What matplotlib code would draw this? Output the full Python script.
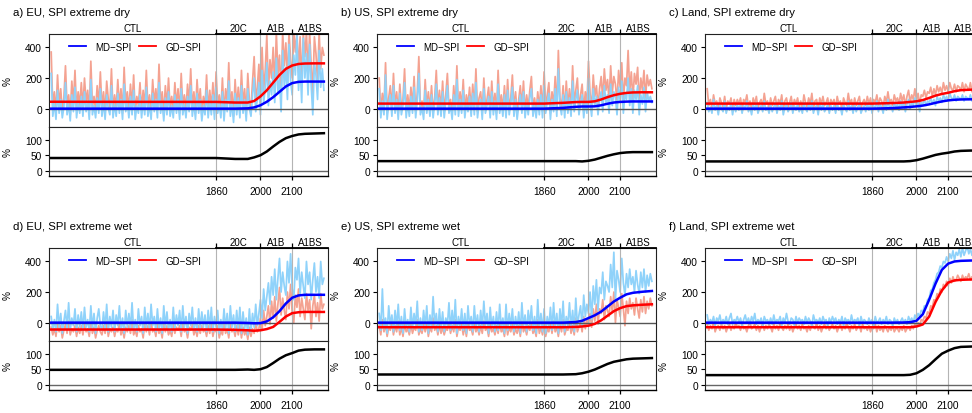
import numpy as np
import matplotlib
matplotlib.use("Agg")
import matplotlib.pyplot as plt
from matplotlib import transforms

plt.rcParams['font.family'] = ['Liberation Sans', 'DejaVu Sans']

# one noisy value every 5 years (CTL years are placed before 1860)
years = np.arange(1340, 2201, 5)
curve_years = [1340, 1860, 1920, 1960, 1980, 2000, 2020, 2040, 2060, 2080, 2100, 2120, 2140, 2170, 2200]

titles = ['a) EU, SPI extreme dry', 'b) US, SPI extreme dry', 'c) Land, SPI extreme dry',
          'd) EU, SPI extreme wet', 'e) US, SPI extreme wet', 'f) Land, SPI extreme wet']
periods = ['CTL', '20C', 'A1B', 'A1BS']
period_edges = [1860, 2000, 2100]
top_ticks = [0, 200, 400]
bottom_ticks = [0, 50, 100]

# ---- a) EU dry
a_md = [230, -50, 40, -70, 120, -30, 60, -60, 10, 170,
        -40, 30, -80, 90, -20, 140, -60, 40, -30, 80,
        -50, 110, -20, 50, -70, 190, -40, 20, -60, 70,
        -30, 130, -50, 40, -70, 90, 0, -40, 150, -60,
        30, -50, 100, -30, 60, -70, 160, -20, 40, -60,
        80, -40, 120, -70, 20, -30, 90, -60, 50, -40,
        140, -50, 30, -70, 100, -20, 60, -60, 170, -30,
        40, -80, 70, -40, 110, -50, 20, -60, 90, -30,
        60, -70, 130, -40, 30, -60, 80, -20, 150, -50,
        40, -70, 100, -30, 60, -80, 20, -40, 120, -60,
        50, -40, 90, -70, 140, -30, 30, -60, 110, -80,
        60, -20, 180, -50, 40, -90, 100, -40, 70, -60,
        150, -30, 60, -80, 130, 0, -50, 90, 200, -20,
        60, 170, -40, 250, 40, 130, 300, 20, 180, 90,
        240, 40, 330, 110, 200, -20, 380, 150, 270, 60,
        420, 180, 90, 350, 220, 480, 120, 300, 40, 460,
        200, 360, 90, 420, 150, -40, 300, 220, 60, 380,
        140, 260, 120]
a_gd = [370, 0, 110, -30, 220, 20, 130, -20, 70, 280,
        10, 90, -40, 180, 30, 250, -10, 110, 20, 170,
        0, 200, 40, 120, -30, 310, 10, 80, -10, 150,
        20, 240, 0, 110, -30, 180, 60, 10, 260, -20,
        90, 0, 190, 20, 130, -30, 270, 30, 110, -10,
        160, 10, 220, -30, 80, 20, 170, -10, 120, 10,
        250, 0, 90, -30, 190, 30, 130, -10, 290, 20,
        110, -40, 150, 10, 200, 0, 80, -20, 170, 20,
        130, -30, 230, 10, 90, -10, 160, 30, 260, 0,
        110, -30, 190, 20, 130, -40, 80, 10, 220, -20,
        120, 0, 170, -30, 240, 20, 90, -20, 200, -40,
        130, 30, 300, 0, 110, -50, 190, 10, 140, -20,
        250, 20, 130, -40, 230, 50, 0, 180, 340, 50,
        140, 290, 30, 400, 120, 250, 480, 110, 320, 200,
        400, 130, 500, 220, 350, 80, 500, 280, 430, 170,
        500, 320, 200, 500, 370, 500, 240, 470, 150, 500,
        340, 500, 210, 500, 280, 90, 470, 360, 170, 500,
        260, 400, 350]
a_md_mean = [0, 0, 0, 2, 8, 22, 45, 75, 110, 145, 167, 175, 177, 177, 177]
a_gd_mean = [45, 44, 40, 40, 50, 80, 120, 170, 220, 260, 282, 292, 295, 296, 296]
a_ratio = [41, 41, 38, 38, 43, 50, 62, 78, 93, 105, 112, 117, 119, 120, 121]

# ---- b) US dry
b_md = [130, -60, 50, -40, 220, -70, 30, 90, -50, 150,
        -30, 60, -70, 100, -40, 20, 170, -60, 40, -50,
        80, -30, 140, -60, 50, 230, -40, 10, -70, 120,
        -30, 60, -50, 90, -60, 30, 160, -40, 70, -50,
        110, -60, 40, 150, -30, 20, -70, 90, -40, 190,
        -50, 60, -30, 120, -60, 40, -20, 80, -50, 100,
        -40, 170, -60, 30, 60, -70, 130, -30, 20, 80,
        -60, 110, -40, 50, -70, 160, -30, 40, -50, 90,
        -60, 120, -40, 30, 140, -50, 60, -70, 20, 90,
        -30, 110, -60, 40, -40, 70, 130, -50, 30, -60,
        60, -40, 90, -60, 150, -30, 40, 100, -70, 60,
        -20, 130, -50, 260, 20, -40, 90, -60, 110, -30,
        70, -50, 180, -20, 60, 120, -40, 30, 90, -60,
        50, -30, 200, 40, -50, 130, 20, 80, -40, 60,
        110, -20, 150, 40, 90, -30, 160, 20, 110, 70,
        -40, 140, 50, 180, -30, 100, 60, 200, 20, 130,
        -30, 120, 60, 150, -40, 90, 30, 140, -20, 110,
        50, 80, 40]
b_gd = [200, -20, 100, 0, 300, -30, 70, 150, -10, 230,
        10, 110, -30, 160, 0, 60, 260, -20, 90, -10,
        140, 10, 210, -20, 100, 340, 0, 50, -30, 190,
        10, 110, -10, 150, -20, 70, 250, 0, 120, -10,
        180, -20, 90, 230, 10, 60, -30, 150, 0, 280,
        -10, 110, 10, 190, -20, 90, 20, 140, -10, 160,
        0, 260, -20, 70, 110, -30, 200, 10, 60, 140,
        -20, 180, 0, 100, -30, 250, 10, 90, -10, 150,
        -20, 190, 0, 70, 220, -10, 110, -30, 60, 150,
        10, 180, -20, 90, 0, 120, 210, -10, 70, -20,
        110, 0, 150, -20, 240, 10, 90, 170, -30, 110,
        20, 210, -10, 380, 70, 0, 150, -20, 180, 10,
        130, -10, 280, 30, 120, 200, 0, 90, 160, -20,
        110, 20, 310, 100, 0, 220, 80, 150, 10, 130,
        210, 60, 260, 120, 190, 50, 280, 100, 210, 160,
        40, 250, 140, 300, 50, 200, 150, 380, 110, 240,
        60, 230, 160, 270, 40, 200, 120, 250, 70, 220,
        150, 190, 130]
b_md_mean = [0, 0, 5, 12, 14, 14, 15, 22, 32, 40, 44, 46, 47, 47, 47]
b_gd_mean = [33, 33, 38, 43, 44, 44, 48, 60, 75, 88, 97, 103, 106, 107, 107]
b_ratio = [31, 31, 31, 31, 30, 32, 36, 42, 48, 53, 57, 59, 60, 60, 60]

# ---- c) Land dry
c_md = [40, -20, 10, -30, 60, -10, 20, -40, 30, 0,
        -20, 50, -30, 10, -10, 40, -40, 20, -20, 30,
        -10, 30, -30, 20, 0, 50, -20, 10, -40, 30,
        -10, 40, -30, 0, 20, -20, 50, -10, 10, -30,
        30, -20, 10, 40, -30, 20, -10, 50, -40, 10,
        30, -20, 0, 40, -30, 20, -10, 30, -20, 10,
        -30, 40, 0, -20, 30, -10, 50, -30, 10, 20,
        -40, 30, -10, 40, -20, 0, 30, -30, 20, -10,
        20, -30, 40, -10, 10, -40, 30, 0, -20, 50,
        -10, 20, -30, 30, -20, 10, 40, -30, 0, 20,
        -20, 40, -10, 30, -30, 20, 0, 50, -20, 30,
        10, -30, 40, -10, 60, 0, 20, -20, 40, 10,
        30, -10, 50, 10, 40, -20, 30, 60, 0, 40,
        20, 70, 10, 50, -20, 40, 30, 60, 20, 50,
        40, 70, 30, 60, 20, 80, 50, 70, 40, 90,
        60, 80, 50, 100, 70, 60, 90, 50, 80, 70,
        60, 90, 50, 80, 70, 60, 90, 50, 80, 70,
        60, 80, 70]
c_gd = [130, 20, 60, 0, 90, 30, 50, -10, 70, 40,
        10, 80, 0, 50, 30, 70, -10, 60, 20, 60,
        30, 70, 0, 60, 40, 90, 10, 50, -10, 70,
        30, 80, 0, 40, 60, 10, 100, 30, 50, 0,
        70, 20, 50, 80, 0, 60, 30, 90, -10, 50,
        70, 10, 40, 80, 0, 60, 30, 70, 10, 50,
        0, 90, 40, 10, 70, 30, 100, 0, 50, 60,
        -10, 70, 30, 80, 20, 40, 70, 0, 60, 30,
        60, 0, 80, 30, 50, -10, 70, 40, 20, 100,
        30, 60, 0, 70, 20, 50, 80, 0, 40, 60,
        20, 80, 30, 70, 0, 60, 40, 90, 20, 70,
        50, 10, 80, 40, 110, 40, 60, 20, 90, 50,
        70, 30, 100, 50, 90, 20, 80, 120, 40, 90,
        60, 130, 50, 100, 30, 90, 80, 120, 70, 110,
        100, 140, 80, 130, 90, 150, 110, 140, 100, 170,
        120, 150, 110, 170, 130, 120, 160, 110, 150, 140,
        120, 170, 110, 160, 140, 120, 170, 110, 150, 140,
        120, 160, 130]
c_md_mean = [0, 0, 3, 8, 11, 15, 20, 28, 38, 47, 54, 58, 60, 61, 61]
c_gd_mean = [33, 33, 36, 40, 44, 48, 56, 70, 85, 96, 104, 114, 121, 124, 125]
c_ratio = [30, 30, 30, 30, 31, 34, 39, 45, 51, 55, 58, 62, 64, 65, 65]

# ---- d) EU wet
d_md = [40, -50, 20, -60, 120, -30, 60, -70, 10, 80,
        -40, 130, -50, 30, -20, 90, -60, 50, -30, 70,
        -50, 100, -30, 20, -60, 110, -40, 60, -70, 30,
        90, -20, -50, 70, -40, 120, -60, 40, -30, 80,
        -60, 50, -20, 110, -50, 30, -70, 80, -30, 60,
        -40, 130, -50, 20, -60, 90, -20, 40, -70, 100,
        -30, 60, -50, 120, -20, 40, -60, 90, -40, 30,
        -70, 110, -30, 70, -50, 20, -60, 100, -40, 50,
        -20, 80, -60, 110, -30, 40, -70, 60, -20, 100,
        -50, 30, -60, 90, -40, 70, -30, 50, -60, 80,
        -40, 100, -60, 40, -30, 80, -70, 20, -50, 90,
        -40, 60, -70, 110, -30, 50, -60, 80, -50, 100,
        -70, 70, -40, 30, -80, 90, -60, 60, -30, 120,
        -20, 60, 150, 30, 220, 80, 170, 260, 120, 300,
        180, 350, 150, 290, 420, 200, 330, 240, 180, 400,
        260, 450, 220, 150, 360, 280, 420, 190, 330, 240,
        160, 400, 250, 330, 150, 280, 390, 200, 300, 160,
        400, 250, 290]
d_gd = [-30, -80, -40, -90, 0, -60, -20, -100, -50, -10,
        -70, 10, -80, -40, -60, -20, -90, -30, -70, -20,
        -80, -10, -60, -40, -90, 0, -70, -30, -100, -50,
        -20, -60, -80, -20, -70, 10, -90, -40, -60, -30,
        -90, -40, -60, 0, -80, -40, -100, -30, -60, -20,
        -70, 20, -80, -50, -90, -20, -60, -40, -100, -10,
        -60, -20, -80, 10, -60, -40, -90, -10, -70, -40,
        -100, 0, -60, -20, -80, -50, -90, -10, -70, -30,
        -50, -20, -90, 0, -60, -40, -100, -30, -50, -10,
        -80, -40, -90, -20, -70, -20, -60, -40, -90, -20,
        -70, -10, -90, -40, -60, -20, -100, -50, -80, -10,
        -70, -40, -100, 0, -60, -40, -90, -20, -80, -10,
        -100, -30, -80, -50, -110, -30, -90, -40, -70, 0,
        -60, -40, 30, -50, 80, -20, 40, 110, -10, 140,
        30, 170, 10, 120, 230, 50, 160, 80, 20, 200,
        90, 250, 60, 0, 180, 100, 220, 40, 160, 90,
        20, 190, 80, 150, -40, 110, 180, 40, 130, 10,
        190, 90, 120]
d_md_mean = [0, 0, 0, -2, -4, -3, 8, 35, 75, 125, 163, 178, 182, 182, 182]
d_gd_mean = [-45, -45, -47, -50, -53, -50, -42, -28, 5, 40, 62, 68, 70, 70, 70]
d_ratio = [48, 48, 48, 49, 48, 50, 57, 70, 84, 95, 102, 110, 113, 114, 114]

# ---- e) US wet
e_md = [60, -50, 220, -40, 30, -70, 110, -20, 50, -60,
        80, -30, 120, -50, 40, -70, 90, -30, 20, -60,
        100, -40, 60, -20, 140, -60, 30, -50, 80, -30,
        110, -70, 50, -40, 170, -20, 60, -60, 90, -40,
        70, -60, 30, -20, 130, -50, 80, -40, 150, -70,
        40, -30, 90, -50, 60, -70, 110, -20, 40, -60,
        110, -30, 50, -60, 80, -40, 140, -20, 60, -70,
        100, -30, 40, -60, 70, -50, 120, -40, 30, -70,
        120, -50, 60, -30, 90, -60, 40, -40, 70, -70,
        130, -30, 50, -60, 80, -20, 110, -50, 40, -70,
        150, -40, 60, -60, 90, -70, 40, -30, 100, -50,
        130, -40, 60, -70, 90, -30, 140, -60, 40, -20,
        130, -40, 80, -60, 160, -20, 50, 110, -30, 180,
        40, 120, 60, 200, 20, 240, 120, 280, 80, 230,
        190, 330, 150, 270, 240, 200, 380, 230, 460, 150,
        340, 280, 200, 420, 260, 180, 320, 230, 350, 250,
        300, 200, 340, 250, 190, 330, 230, 350, 200, 310,
        240, 320, 270]
e_gd = [-20, -80, 20, -60, -10, -90, -30, -50, 0, -80,
        -20, -60, 10, -80, -30, -90, -10, -60, -40, -80,
        -10, -70, -30, -50, 20, -80, -40, -70, -10, -60,
        0, -90, -30, -60, 30, -50, -20, -80, -10, -70,
        -30, -80, -40, -50, 0, -70, -20, -60, 20, -90,
        -30, -50, -10, -80, -20, -90, 0, -50, -40, -80,
        0, -60, -30, -80, -20, -70, 10, -50, -30, -90,
        -10, -60, -40, -80, -20, -70, 0, -60, -40, -90,
        10, -80, -30, -60, -10, -80, -40, -70, -20, -90,
        10, -60, -30, -80, -20, -50, 0, -70, -40, -90,
        20, -70, -30, -80, -10, -90, -40, -60, 0, -70,
        10, -60, -30, -90, -10, -60, 20, -80, -40, -50,
        10, -70, -20, -80, 30, -60, -30, 0, -60, 40,
        -40, 20, -20, 60, -30, 90, 10, 120, -10, 90,
        60, 150, 20, 110, 80, 40, 170, 70, 200, 0,
        150, 100, 40, 190, 90, -20, 140, 60, 160, 90,
        130, 50, 160, 90, 30, 150, 70, 170, 60, 140,
        90, 160, 110]
e_md_mean = [0, 0, 0, 4, 12, 30, 48, 72, 105, 138, 163, 185, 195, 202, 207]
e_gd_mean = [-30, -30, -30, -28, -25, -20, -8, 15, 45, 75, 95, 108, 113, 117, 120]
e_ratio = [33, 33, 33, 34, 37, 42, 49, 58, 67, 74, 78, 82, 84, 85, 86]

# ---- f) Land wet
f_md = [50, -10, 20, 0, 40, -20, 30, 10, 50, -10,
        20, 0, 40, -10, 30, 60, -10, 20, 10, 40,
        0, 30, -20, 20, 50, 0, 30, -10, 40, 10,
        60, -10, 20, 0, 30, -20, 40, 10, 20, -10,
        30, -10, 50, 0, 20, 10, 40, -20, 30, 0,
        60, 10, -10, 30, 20, -20, 40, 0, 30, 10,
        20, -10, 40, 0, 30, 10, -20, 50, 10, 20,
        0, 30, -10, 40, 10, 20, -20, 30, 0, 40,
        10, 30, -10, 20, 0, 40, -20, 30, 10, 20,
        -10, 50, 0, 20, 10, 30, -20, 40, 0, 20,
        10, -10, 30, 0, 20, -20, 40, 0, 10, 30,
        -10, 20, 0, 40, -10, 20, 10, -20, 30, 0,
        20, -10, 10, 30, 0, 20, -10, 40, 10, 30,
        0, 50, 20, 60, 40, 80, 70, 110, 100, 150,
        160, 210, 220, 260, 280, 320, 330, 370, 360, 400,
        390, 430, 400, 450, 420, 470, 410, 460, 440, 480,
        430, 490, 440, 470, 500, 450, 480, 440, 500, 460,
        490, 440, 470]
f_gd = [-10, -50, -20, -40, 0, -60, -30, -20, -50, -10,
        -40, -20, -60, -30, -10, -50, -20, -40, 0, -30,
        -20, -50, -10, -40, -30, -60, -20, 0, -40, -30,
        -10, -50, -20, -60, -30, -10, -50, -20, -40, -10,
        -30, -60, -10, -40, -20, -50, 0, -30, -50, -20,
        -40, -10, -50, -20, -60, -30, -10, -40, -20, -50,
        -10, -40, -30, -60, -20, -50, -10, -30, -40, 0,
        -50, -20, -60, -30, -10, -40, -20, -50, -30, -10,
        -40, -20, -60, -30, -10, -50, -20, -40, 0, -30,
        -60, -20, -40, -10, -50, -30, -20, -60, -10, -40,
        -30, -50, -20, -60, -30, -40, -10, -60, -20, -50,
        -30, -60, -20, -40, -60, -30, -50, -20, -60, -40,
        -40, -60, -30, -50, -20, -60, -40, -30, -50, -20,
        -40, -10, -30, 0, -20, 20, 10, 40, 30, 70,
        60, 110, 100, 150, 140, 190, 170, 220, 200, 250,
        230, 270, 240, 290, 260, 300, 270, 280, 310, 290,
        270, 310, 280, 300, 290, 320, 280, 300, 270, 310,
        290, 300, 280]
f_md_mean = [0, 0, 0, 1, 3, 12, 55, 150, 255, 345, 386, 400, 404, 406, 407]
f_gd_mean = [-30, -30, -30, -30, -30, -25, -12, 40, 135, 210, 262, 276, 280, 282, 283]
f_ratio = [31, 31, 31, 31, 32, 37, 48, 63, 82, 100, 110, 118, 122, 123, 124]

panels = [
    (a_md, a_gd, a_md_mean, a_gd_mean, a_ratio),
    (b_md, b_gd, b_md_mean, b_gd_mean, b_ratio),
    (c_md, c_gd, c_md_mean, c_gd_mean, c_ratio),
    (d_md, d_gd, d_md_mean, d_gd_mean, d_ratio),
    (e_md, e_gd, e_md_mean, e_gd_mean, e_ratio),
    (f_md, f_gd, f_md_mean, f_gd_mean, f_ratio),
]

LIGHTBLUE = '#8fd2fa'
SALMON = '#f4a291'
XLIM = (1334, 2212)
W, H = 972.0, 414.0
FS = 7.3

fig = plt.figure(figsize=(9.72, 4.14), dpi=100)

for k, (md, gd, md_mean, gd_mean, ratio) in enumerate(panels):
    row, col = divmod(k, 3)
    x0 = 49.3 + 328 * col
    ytop = 35 + 214 * row
    ydiv = ytop + 93.3
    ybot = ydiv + 48.4
    ax1 = fig.add_axes([x0 / W, 1 - ydiv / H, 278.4 / W, 93.3 / H])
    ax2 = fig.add_axes([x0 / W, 1 - ybot / H, 278.4 / W, 48.4 / H])

    fig.text((x0 - 36.6) / W, 1 - (ytop - 22) / H, titles[k], fontsize=8.2,
             ha='left', va='center')

    # top: noisy series and their smooth means
    ax1.plot(years, gd, color=SALMON, lw=1.25, zorder=1)
    ax1.plot(years, md, color=LIGHTBLUE, lw=1.25, zorder=1.1)
    ax1.axhline(0, color='#555555', lw=1.0, zorder=2)
    ax1.plot(curve_years, gd_mean, color='red', lw=1.8, zorder=3, label='GD\u2212SPI')
    ax1.plot(curve_years, md_mean, color='blue', lw=1.8, zorder=3.1, label='MD\u2212SPI')
    ax1.set_ylim(-122, 488)
    ax1.set_yticks(top_ticks)

    # bottom: ratio
    ax2.plot(curve_years, ratio, color='black', lw=1.8, zorder=3)
    ax2.axhline(0, color='#666666', lw=1.0, zorder=2)
    ax2.set_ylim(-16, 140)
    ax2.set_yticks(bottom_ticks)

    for ax in (ax1, ax2):
        ax.set_xlim(*XLIM)
        for e in period_edges:
            ax.axvline(e, color='#b4b4b4', lw=0.8, zorder=1.5)
        for s in ax.spines.values():
            s.set_linewidth(0.8)
            s.set_color('#222222')
        ax.tick_params(axis='y', labelsize=FS, length=3.2, width=0.8, pad=2)
        ax.set_ylabel('%', fontsize=FS)
        ax.yaxis.set_label_coords(-36.5 / 278.4, 0.5)

    ax1.set_xticks(period_edges)
    ax1.tick_params(axis='x', bottom=False, top=True, labelbottom=False,
                    labeltop=False, direction='out', length=3.4, width=0.9)
    ax2.set_xticks(period_edges)
    ax2.set_xticklabels([str(v) for v in period_edges])
    ax2.tick_params(axis='x', labelsize=FS, length=3.0, width=0.9, pad=4.5)
    ax2.spines['bottom'].set_linewidth(1.0)
    ax2.spines['bottom'].set_color('black')

    # top axis line over the scenario period
    trans = transforms.blended_transform_factory(ax1.transData, ax1.transAxes)
    ax1.plot([period_edges[0], XLIM[1]], [1, 1], transform=trans, color='black',
             lw=1.3, clip_on=False, zorder=5)
    bounds = [XLIM[0]] + period_edges + [XLIM[1]]
    for name, lo, hi in zip(periods, bounds[:-1], bounds[1:]):
        ax1.annotate(name, xy=((lo + hi) / 2, 1), xycoords=trans, xytext=(0, 4.6),
                     textcoords='offset points', ha='center', va='center',
                     fontsize=7, annotation_clip=False)

    handles, labels = ax1.get_legend_handles_labels()
    ax1.legend(handles[::-1], labels[::-1], loc='center left',
               bbox_to_anchor=(0.071, 0.864), ncol=2, frameon=False,
               fontsize=7, borderpad=0, borderaxespad=0, handlelength=1.75,
               handletextpad=0.9, columnspacing=0.85)
    for line in ax1.get_legend().get_lines():
        line.set_linewidth(1.3)

fig.savefig('out.png', dpi=100)
